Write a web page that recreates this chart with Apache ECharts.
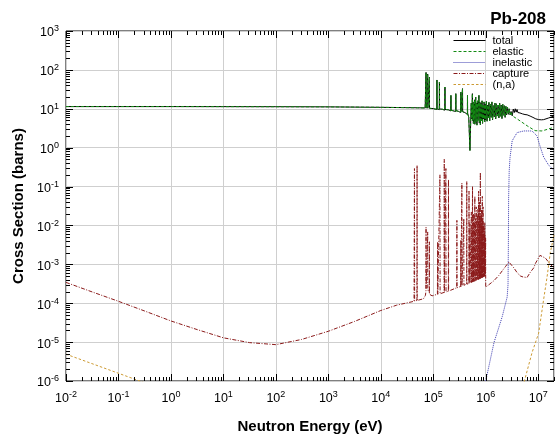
<!DOCTYPE html>
<html>
<head>
<meta charset="utf-8">
<script src="https://cdn.jsdelivr.net/npm/echarts@6/dist/echarts.min.js"></script>
<style>
html,body{margin:0;padding:0;background:#fff;}
#chart{width:557px;height:439px;}
</style>
</head>
<body>
<div id="chart"></div>
<script>
// ---------------- DATA ----------------
const seriesNames = ['total', 'elastic', 'inelastic', 'capture', '(n,a)'];

// scattering: common to total and elastic (low energy + resolved resonances)
const scatterLow = [
  [1e-2, 11.4], [1e-1, 11.4], [1, 11.4], [10, 11.35], [100, 11.3], [1e3, 11.2],
  [1e4, 10.9], [3e4, 10.7], [5e4, 10.6], [7.0e4, 10.5],
  [7.22e4, 9.8], [7.28e4, 86], [7.34e4, 10.4],
  [7.78e4, 10.0], [7.83e4, 78], [7.88e4, 10.3],
  [8.38e4, 10.0], [8.43e4, 65], [8.48e4, 10.3],
  [1.0e5, 10.1],
  [1.168e5, 9.6], [1.175e5, 55], [1.182e5, 10.0],
  [1.302e5, 9.5], [1.31e5, 48.5], [1.318e5, 9.9],
  [1.5e5, 9.7],
  [1.66e5, 9.2], [1.67e5, 36], [1.68e5, 9.6],
  [1.95e5, 9.4],
  [2.16e5, 8.8], [2.17e5, 22], [2.18e5, 9.2],
  [2.675e5, 8.5], [2.69e5, 24.5], [2.705e5, 9.0],
  [3.0e5, 8.6],
  [3.33e5, 8.0], [3.35e5, 27], [3.37e5, 8.5],
  [3.59e5, 7.9], [3.61e5, 33], [3.63e5, 8.4],
  [4.0e5, 8.0],
  [4.47e5, 7.2], [4.49e5, 22], [4.51e5, 7.8],
  [4.75e5, 6.0], [5.0e5, 0.85]
];
// dense fluctuation region (total = elastic here)
const scatterDense = [
  [5.2e5, 6.5], [5.3e5, 14], [5.4e5, 5.5], [5.5e5, 12], [5.57e5, 24.5], [5.63e5, 5.0],
  [5.72e5, 15], [5.82e5, 4.2], [5.9e5, 13], [6.0e5, 5.5], [6.1e5, 17], [6.2e5, 4.0],
  [6.3e5, 11], [6.44e5, 20], [6.55e5, 4.5], [6.65e5, 14], [6.8e5, 3.8], [6.95e5, 16],
  [7.1e5, 5.0], [7.25e5, 12], [7.41e5, 22], [7.55e5, 4.3], [7.7e5, 15], [7.9e5, 3.9],
  [8.1e5, 14], [8.3e5, 5.0], [8.5e5, 16], [8.7e5, 4.2], [8.9e5, 12], [9.1e5, 5.5],
  [9.3e5, 15], [9.55e5, 4.6], [9.8e5, 13], [1.0e6, 5.2], [1.03e6, 15.5], [1.06e6, 4.8],
  [1.09e6, 12.5], [1.12e6, 5.8], [1.15e6, 14.5], [1.19e6, 4.9], [1.23e6, 13], [1.27e6, 6.0],
  [1.31e6, 15], [1.35e6, 5.2], [1.4e6, 12], [1.45e6, 6.2], [1.5e6, 14], [1.55e6, 5.5],
  [1.6e6, 13.5], [1.66e6, 6.5], [1.72e6, 12.5], [1.78e6, 5.8], [1.84e6, 14], [1.9e6, 6.4],
  [1.97e6, 12.5], [2.04e6, 5.6], [2.11e6, 13], [2.18e6, 6.8], [2.26e6, 12], [2.34e6, 6.0],
  [2.42e6, 11.5], [2.5e6, 7.0], [2.6e6, 11], [2.7e6, 7.2], [2.8e6, 10], [2.92e6, 7.0],
  [3.05e6, 8.5], [3.2e6, 6.6]
];
const totalHigh = [
  [3.35e6, 9.8], [3.5e6, 8.0], [3.65e6, 10.0], [3.8e6, 8.2], [3.95e6, 9.6], [4.1e6, 8.0],
  [4.3e6, 9.0], [4.5e6, 7.8], [4.75e6, 8.4], [5.0e6, 7.4], [5.3e6, 7.7], [5.6e6, 7.1],
  [6.14e6, 7.0], [7.0e6, 6.5], [7.94e6, 6.0], [9.0e6, 5.5], [1.02e7, 5.26], [1.15e7, 5.2],
  [1.27e7, 5.26], [1.58e7, 5.8], [2.0e7, 6.5]
];
const elasticHigh = [
  [3.44e6, 6.4], [3.96e6, 5.5], [6.14e6, 3.66], [8.69e6, 2.74], [1.18e7, 2.69],
  [1.53e7, 2.99], [2.0e7, 3.35]
];
const inelastic = [
  [1.0e6, 1.0e-6], [1.435e6, 9.7e-6], [2.06e6, 4.5e-5], [2.56e6, 1.44e-4], [2.66e6, 3.0e-4],
  [2.7e6, 3.0e-3], [2.73e6, 5.0e-2], [2.8e6, 0.25], [2.9e6, 0.55], [3.19e6, 1.5],
  [3.96e6, 2.44], [5.31e6, 2.69], [7.64e6, 2.69], [9.48e6, 2.01], [1.1e7, 1.02],
  [1.27e7, 0.574], [1.58e7, 0.355], [1.97e7, 0.266]
];
const capture = [
  [1e-2, 3.43e-4], [3.16e-2, 1.95e-4], [1e-1, 1.12e-4], [3.16e-1, 6.3e-5], [1, 3.5e-5],
  [3.16, 2.1e-5], [10, 1.29e-5], [31.6, 9.7e-6], [100, 8.6e-6], [309, 1.17e-5],
  [1e3, 1.9e-5], [3.16e3, 3.4e-5], [1e4, 6.5e-5], [2e4, 8.9e-5], [4.3e4, 1.12e-4],
  [4.35e4, 1.13e-4], [4.38e4, 0.29], [4.41e4, 1.13e-4],
  [4.88e4, 1.18e-4], [4.91e4, 0.35], [4.94e4, 1.18e-4],
  [6.5e4, 1.3e-4], [7.1e4, 1.6e-4], [7.25e4, 2.1e-4], [7.28e4, 9.1e-3], [7.31e4, 2.4e-4],
  [7.6e4, 2.6e-4], [7.8e4, 2.3e-4], [7.83e4, 6.8e-3], [7.86e4, 2.2e-4], [8.4e4, 1.9e-4],
  [8.43e4, 3.8e-3], [8.46e4, 1.7e-4], [9.5e4, 1.55e-4],
  [1.2e5, 1.7e-4], [1.21e5, 3.8e-3], [1.22e5, 1.7e-4],
  [1.33e5, 1.75e-4], [1.34e5, 0.2], [1.35e5, 1.75e-4],
  [1.61e5, 1.9e-4], [1.62e5, 0.5], [1.63e5, 1.9e-4],
  [1.73e5, 1.95e-4], [1.74e5, 0.29], [1.75e5, 1.95e-4],
  [1.94e5, 2.05e-4], [1.95e5, 0.15], [1.96e5, 2.05e-4],
  [2.8e5, 2.5e-4], [2.82e5, 1.35e-2], [2.84e5, 2.5e-4],
  [3.33e5, 2.7e-4], [3.35e5, 4.2e-3], [3.37e5, 2.7e-4],
  [3.49e5, 2.8e-4], [3.51e5, 0.123], [3.53e5, 2.8e-4],
  [3.8e5, 2.9e-4], [3.82e5, 1.5e-2], [3.84e5, 2.9e-4],
  [4.33e5, 3.1e-4], [4.35e5, 0.135], [4.37e5, 3.1e-4],
  [4.78e5, 3.2e-4], [4.8e5, 0.076], [4.82e5, 3.2e-4],
  [4.98e5, 3.3e-4], [5.0e5, 1.1e-2], [5.02e5, 3.3e-4],
  [5.3e5, 3.4e-4], [5.32e5, 2.2e-2], [5.34e5, 3.4e-4],
  [5.45e5, 3.45e-4], [5.46e5, 8.0e-3], [5.47e5, 3.45e-4],
  [5.58e5, 3.5e-4], [5.6e5, 0.1], [5.62e5, 3.5e-4],
  [5.8e5, 3.6e-4], [5.82e5, 2.0e-2], [5.84e5, 3.6e-4],
  [5.98e5, 3.65e-4], [6.0e5, 1.2e-2], [6.02e5, 3.65e-4],
  [6.18e5, 3.7e-4], [6.2e5, 0.056], [6.22e5, 3.7e-4],
  [6.4e5, 3.8e-4], [6.42e5, 1.5e-2], [6.44e5, 3.8e-4],
  [6.58e5, 3.9e-4], [6.6e5, 3.0e-2], [6.62e5, 3.9e-4],
  [6.88e5, 4.0e-4], [6.9e5, 1.8e-2], [6.92e5, 4.0e-4],
  [7.08e5, 4.05e-4], [7.1e5, 2.6e-2], [7.12e5, 4.05e-4],
  [7.28e5, 4.1e-4], [7.3e5, 0.076], [7.32e5, 4.1e-4],
  [7.43e5, 4.15e-4], [7.45e5, 1.0e-2], [7.47e5, 4.15e-4],
  [7.58e5, 4.2e-4], [7.6e5, 4.0e-2], [7.62e5, 4.2e-4],
  [7.73e5, 4.25e-4], [7.75e5, 1.6e-2], [7.77e5, 4.25e-4],
  [7.88e5, 4.3e-4], [7.9e5, 0.23], [7.92e5, 4.3e-4],
  [8.08e5, 4.4e-4], [8.1e5, 1.4e-2], [8.12e5, 4.4e-4],
  [8.28e5, 4.5e-4], [8.3e5, 2.5e-2], [8.32e5, 4.5e-4],
  [8.43e5, 4.55e-4], [8.45e5, 9.0e-3], [8.47e5, 4.55e-4],
  [8.58e5, 4.6e-4], [8.6e5, 0.056], [8.62e5, 4.6e-4],
  [8.73e5, 4.65e-4], [8.75e5, 1.3e-2], [8.77e5, 4.65e-4],
  [8.88e5, 4.7e-4], [8.9e5, 3.0e-2], [8.92e5, 4.7e-4],
  [9.08e5, 4.8e-4], [9.1e5, 1.1e-2], [9.12e5, 4.8e-4],
  [9.28e5, 4.9e-4], [9.3e5, 8.3e-3], [9.32e5, 4.9e-4],
  [9.43e5, 4.95e-4], [9.45e5, 6.5e-3], [9.47e5, 4.95e-4],
  [9.58e5, 5.0e-4], [9.6e5, 1.2e-2], [9.62e5, 5.0e-4],
  [9.76e5, 5.1e-4], [9.78e5, 5.5e-3], [9.8e5, 5.1e-4],
  [9.93e5, 5.2e-4], [9.95e5, 4.7e-3], [9.97e5, 5.3e-4],
  [1.0e6, 2.6e-4], [1.15e6, 3.0e-4], [1.435e6, 3.8e-4], [1.78e6, 5.2e-4], [2.06e6, 6.8e-4],
  [2.4e6, 8.9e-4], [2.76e6, 1.15e-3], [3.44e6, 8.1e-4], [4.0e6, 6.0e-4], [4.6e6, 5.0e-4],
  [5.2e6, 4.7e-4], [6.14e6, 4.6e-4], [7.1e6, 6.3e-4], [8.2e6, 8.1e-4], [8.9e6, 1.07e-3],
  [1.08e7, 1.7e-3], [1.37e7, 1.45e-3], [1.7e7, 1.0e-3], [2.0e7, 8.1e-4]
];
const nalphaLow = [[1e-2, 4.9e-6], [1e-1, 1.58e-6], [0.3, 9.2e-7]];
const nalphaHigh = [
  [5.4e6, 9.5e-7], [7.64e6, 5.4e-6], [1.02e7, 1.7e-5], [1.26e7, 1.17e-4],
  [1.47e7, 4.6e-4], [1.7e7, 2.0e-3], [2.0e7, 5.6e-3]
];

// axis ranges
const xMin = 1e-2, xMax = 2e7, yMin = 1e-6, yMax = 1e3;

// ---------------- CHART ----------------
const FONT = 'Liberation Sans, Arial, Helvetica, sans-serif';
const chart = echarts.init(document.getElementById('chart'), null, {renderer: 'canvas'});

function powLabel(v) {
  const e = Math.log10(v);
  const r = Math.round(e);
  if (Math.abs(e - r) > 1e-6) return '';
  return '{b|10}{s|' + r + '}';
}
const richLab = {
  b: {fontSize: 12.5, lineHeight: 13, padding: [4, 0, 0, 0], fontFamily: FONT, color: '#000'},
  s: {fontSize: 9, lineHeight: 10, verticalAlign: 'top', fontFamily: FONT, color: '#000'}
};

function logTicks(lo, hi) {
  const out = [];
  for (let e = Math.floor(Math.log10(lo)); e <= Math.ceil(Math.log10(hi)); e++) {
    for (let m = 1; m <= 9; m++) {
      const v = m * Math.pow(10, e);
      if (v >= lo * 0.999 && v <= hi * 1.001) out.push(v);
    }
  }
  return out;
}
const xTickData = logTicks(xMin, xMax).map(v => [v, 1, Math.abs(Math.log10(v) - Math.round(Math.log10(v))) < 1e-9 ? 1 : 0]);
const yTickData = logTicks(yMin, yMax).map(v => [1, v, Math.abs(Math.log10(v) - Math.round(Math.log10(v))) < 1e-9 ? 1 : 0]);

const MAJ = 7, MIN = 4;
function px(a) { return Math.round(a) + 0.5; }
function renderXTick(params, api) {
  const v = api.value(0);
  const len = api.value(2) === 1 ? MAJ : MIN;
  const pb = api.coord([v, yMin]);
  const pt = api.coord([v, yMax]);
  const x = px(pb[0]);
  const st = {stroke: '#000', lineWidth: 1};
  return {type: 'group', children: [
    {type: 'line', shape: {x1: x, y1: pb[1], x2: x, y2: pb[1] - len}, style: st},
    {type: 'line', shape: {x1: x, y1: pt[1], x2: x, y2: pt[1] + len}, style: st}
  ]};
}
function renderYTick(params, api) {
  const v = api.value(1);
  const len = api.value(2) === 1 ? MAJ : MIN;
  const pl = api.coord([xMin, v]);
  const pr = api.coord([xMax, v]);
  const y = px(pl[1]);
  const st = {stroke: '#000', lineWidth: 1};
  return {type: 'group', children: [
    {type: 'line', shape: {x1: pl[0], y1: y, x2: pl[0] + len, y2: y}, style: st},
    {type: 'line', shape: {x1: pr[0], y1: y, x2: pr[0] - len, y2: y}, style: st}
  ]};
}

function lineSeries(name, data, color, type) {
  return {
    name: name, type: 'line', data: data, symbol: 'none', showSymbol: false,
    lineStyle: {color: color, width: 1, type: type}, itemStyle: {color: color},
    clip: true, silent: true, animation: false
  };
}

const option = {
  animation: false,
  backgroundColor: '#fff',
  title: {
    text: 'Pb-208', right: 11, top: 11, padding: 0,
    textStyle: {fontSize: 17, fontWeight: 'bold', fontFamily: FONT, color: '#000'}
  },
  legend: {
    data: seriesNames, orient: 'vertical', left: 453, top: 35, padding: 0,
    itemWidth: 32, itemHeight: 11, itemGap: 0,
    itemStyle: {color: 'rgba(0,0,0,0)', borderColor: 'rgba(0,0,0,0)', borderWidth: 0, opacity: 0},
    lineStyle: {width: 1, color: 'inherit', type: 'inherit'},
    textStyle: {fontSize: 11, lineHeight: 11, fontFamily: FONT, color: '#000', padding: [0, 0, 0, 2]}
  },
  grid: {left: 66, right: 0, top: 31, bottom: 50, show: true, borderColor: '#000', borderWidth: 1, backgroundColor: 'transparent'},
  xAxis: {
    type: 'log', logBase: 10, min: xMin, max: xMax, splitNumber: 10,
    name: 'Neutron Energy (eV)', nameLocation: 'middle', nameGap: 38,
    nameTextStyle: {fontSize: 15, fontWeight: 'bold', fontFamily: FONT, color: '#000'},
    axisLine: {show: false}, axisTick: {show: false},
    axisLabel: {formatter: powLabel, rich: richLab, margin: 9, color: '#000', showMinLabel: true, showMaxLabel: true},
    splitLine: {show: true, lineStyle: {color: '#cfcfcf', width: 1}},
    minorTick: {show: false}
  },
  yAxis: {
    type: 'log', logBase: 10, min: yMin, max: yMax, splitNumber: 10,
    name: 'Cross Section (barns)', nameLocation: 'middle', nameGap: 40,
    nameTextStyle: {fontSize: 15, fontWeight: 'bold', fontFamily: FONT, color: '#000'},
    axisLine: {show: false}, axisTick: {show: false},
    axisLabel: {formatter: powLabel, rich: richLab, margin: 7, color: '#000', showMinLabel: true, showMaxLabel: true},
    splitLine: {show: true, lineStyle: {color: '#cfcfcf', width: 1}}
  },
  series: [
    lineSeries('total', scatterLow.concat(scatterDense, totalHigh), '#000000', 'solid'),
    lineSeries('elastic', scatterLow.concat(scatterDense, elasticHigh), '#138a13', [3, 2]),
    lineSeries('inelastic', inelastic, '#3b3bb0', [1, 1]),
    lineSeries('capture', capture, '#8b1a1a', [4, 1.5, 1, 1.5]),
    lineSeries('(n,a)', nalphaLow.concat([[null, null]], nalphaHigh), '#cc9a33', [2.5, 2]),
    {type: 'custom', name: '_xt', data: xTickData, renderItem: renderXTick, silent: true, clip: false, z: 5, encode: {x: 0, y: 1}},
    {type: 'custom', name: '_yt', data: yTickData, renderItem: renderYTick, silent: true, clip: false, z: 5, encode: {x: 0, y: 1}}
  ]
};
chart.setOption(option);
</script>
</body>
</html>
